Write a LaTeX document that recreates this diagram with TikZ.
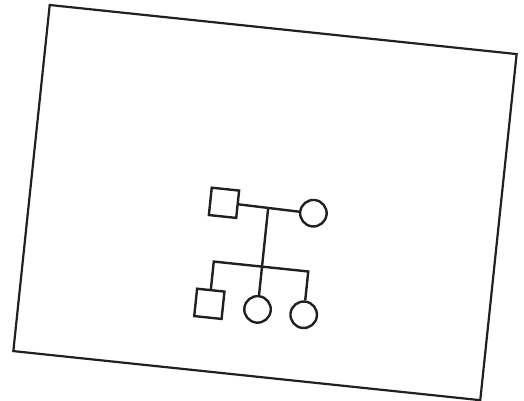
\documentclass[tikz,border=0pt]{standalone}
\usetikzlibrary{shapes.geometric}
\definecolor{ink}{HTML}{231F20}
\begin{document}
\begin{tikzpicture}[x=1pt,y=-1pt,
  frame/.style={draw=ink,line width=2.2pt,line join=miter},
  male/.style={draw=ink,line width=2.4pt,rectangle,minimum size=27.5pt,inner sep=0pt},
  female/.style={draw=ink,line width=2.4pt,circle,minimum size=26.5pt,inner sep=0pt},
  link/.style={draw=ink,line width=2.4pt,line join=miter}]
\useasboundingbox (0,0) rectangle (524,401);
\begin{scope}[shift={(49.7pt,-5pt)},rotate=-6,transform shape]
  \draw[frame] (0,0) rectangle (469.5,348);
  \node[male] (f) at (194,178.5) {};
  \node[female] (m) at (284,179.5) {};
  \node[male] (c1) at (190,280.5) {};
  \node[female] (c2) at (238.5,281) {};
  \node[female] (c3) at (285,281.5) {};
  \coordinate (mm) at (238.5,179);
  \coordinate (sib) at (238.5,238);
  \coordinate (sl) at (190,238);
  \coordinate (sr) at (285,238);
  \draw[link] (f.east) -- (m.west);
  \draw[link] (mm) -- (sib);
  \draw[link] (c1.north) -- (sl) -- (sr) -- (c3.north);
  \draw[link] (sib) -- (c2.north);
\end{scope}
\end{tikzpicture}
\end{document}
